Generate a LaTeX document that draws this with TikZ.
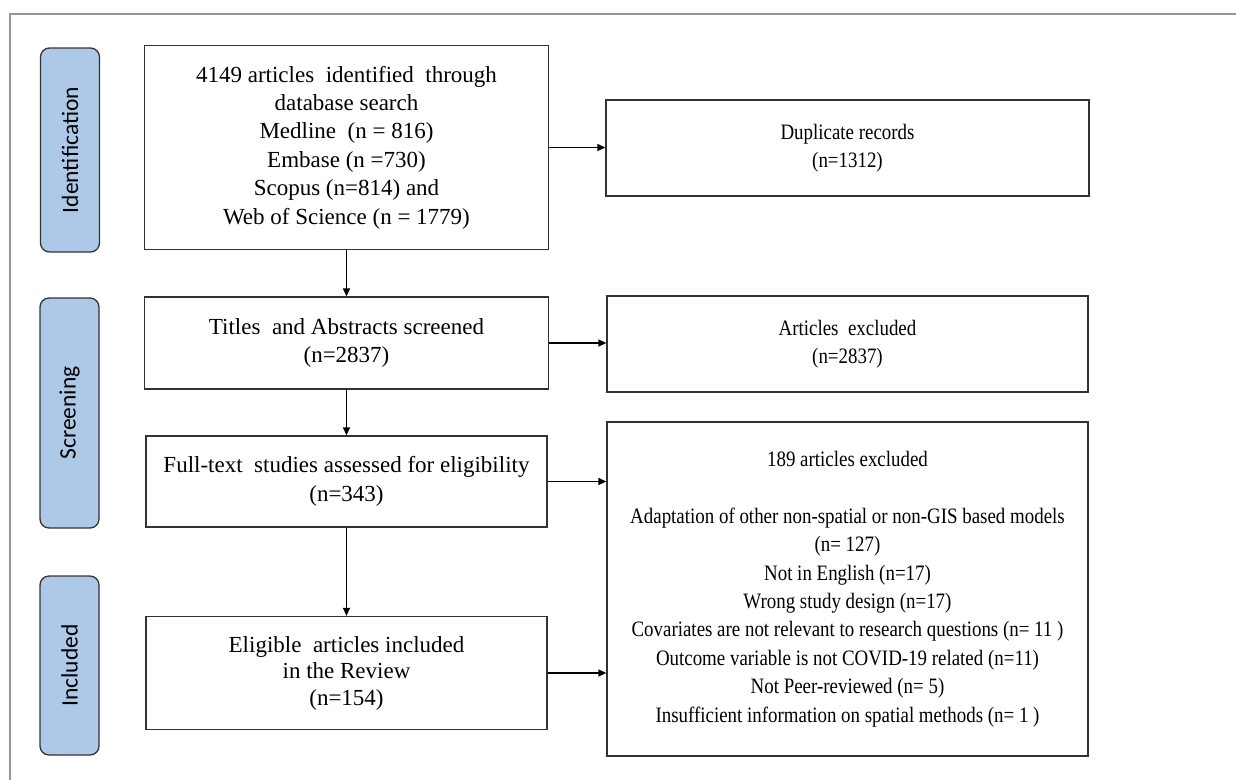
\documentclass[tikz,border=0pt]{standalone}
\usepackage{fontspec}
\setmainfont{Liberation Serif}
\newfontfamily\rightfont[FakeStretch=0.86]{Liberation Serif}
\newfontfamily\labelfont{Carlito}
\usetikzlibrary{arrows.meta}
\definecolor{pillblue}{RGB}{174,200,232}
\definecolor{edgegray}{RGB}{50,50,50}
\definecolor{framegray}{RGB}{150,150,150}
\begin{document}
\begin{tikzpicture}[x=1pt,y=-1pt,
  flowbox/.style={draw=edgegray,line width=1.3pt,fill=white,inner sep=0pt,align=center,
    font=\fontsize{23}{28.4}\selectfont},
  rightbox/.style={flowbox,font=\rightfont\fontsize{22}{28.4}\selectfont},
  pill/.style={draw=edgegray,line width=1.3pt,fill=pillblue,rounded corners=9pt,inner sep=0pt,
    minimum width=59pt},
  pilltext/.style={rotate=90,font=\labelfont\fontsize{23.5}{26}\selectfont},
  conn/.style={draw=black,line width=1.3pt,-{Triangle[length=8pt,width=7pt]}}]
\useasboundingbox (0,0) rectangle (1236,780);
\draw[framegray,line width=1.3pt] (10,780) -- (10,14) -- (1236,14);

% phase pills
\node[pill,minimum height=204pt] (pid) at (70,150) {};
\node[pilltext] (tid) at (pid.center) {Identification};
\node[pill,minimum height=230pt] (psc) at (69.5,413) {};
\node[pilltext] (tsc) at (psc.center) {Screening};
\node[pill,minimum height=179pt] (pin) at (69.5,665.5) {};
\node[pilltext] (tin) at (pin.center) {Included};

% left column
\node[flowbox,minimum width=404pt,minimum height=204pt] (b1) at (346.5,147.5)
  {4149 articles\ \ identified\ \ through\\database search\\Medline\ \ (n = 816)\\Embase (n =730)\\Scopus (n=814) and\\Web of Science (n = 1779)};
\node[flowbox,minimum width=404pt,minimum height=92pt] (b2) at (346.5,343)
  {Titles\ \ and Abstracts screened\\(n=2837)};
\node[flowbox,minimum width=401pt,minimum height=91pt] (b3) at (346.5,481.5)
  {Full-text\ \ studies assessed for eligibility\\(n=343)};
\node[flowbox,minimum width=401pt,minimum height=113pt,font=\fontsize{23}{26.5}\selectfont] (b4) at (346.5,673)
  {Eligible\ \ articles included\\in the Review\\(n=154)};

% right column
\node[rightbox,minimum width=483pt,minimum height=96pt] (r1) at (847.5,148)
  {Duplicate records\\(n=1312)};
\node[rightbox,minimum width=481pt,minimum height=96pt] (r2) at (847.5,344)
  {Articles\ \ excluded\\(n=2837)};
\node[rightbox,minimum width=481pt,minimum height=334pt] (r3) at (847.5,589)
  {189 articles excluded\\[28.4pt]
   Adaptation of other non-spatial or non-GIS based models\\(n= 127)\\
   Not in English (n=17)\\Wrong study design (n=17)\\
   Covariates are not relevant to research questions (n= 11 )\\
   Outcome variable is not COVID-19 related (n=11)\\
   Not Peer-reviewed (n= 5)\\
   Insufficient information on spatial methods (n= 1 )};

% connectors
\draw[conn] (b1.south) -- (b2.north);
\draw[conn] (b2.south) -- (b3.north);
\draw[conn] (b3.south) -- (b4.north);
\draw[conn] (b1.east) -- (r1.west |- b1.east);
\draw[conn] (b2.east) -- (r2.west |- b2.east);
\draw[conn] (b3.east) -- (r3.west |- b3.east);
\draw[conn] (b4.east) -- (r3.west |- b4.east);
\end{tikzpicture}
\end{document}
